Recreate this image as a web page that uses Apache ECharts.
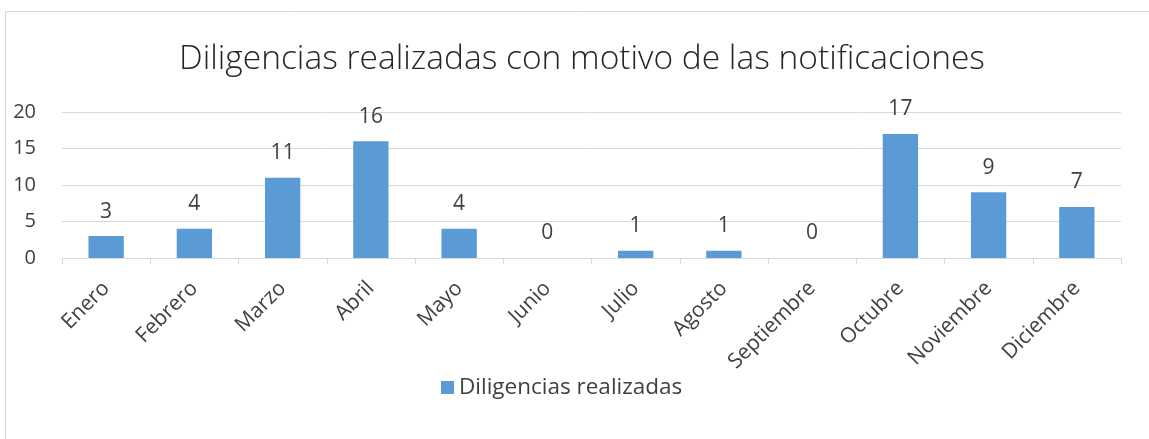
<!DOCTYPE html>
<html>
<head>
<meta charset="utf-8">
<script src="https://cdn.jsdelivr.net/npm/echarts@6/dist/echarts.min.js"></script>
<style>
  html, body { margin: 0; padding: 0; background: #fff; }
  #chart { width: 1149px; height: 439px; }
</style>
</head>
<body>
<div id="chart"></div>
<script>
// datos del gráfico
var meses = ['Enero', 'Febrero', 'Marzo', 'Abril', 'Mayo', 'Junio', 'Julio', 'Agosto', 'Septiembre', 'Octubre', 'Noviembre', 'Diciembre'];
var diligencias = [3, 4, 11, 16, 4, 0, 1, 1, 0, 17, 9, 7];
var serieNombre = 'Diligencias realizadas';
var tituloTexto = 'Diligencias realizadas con motivo de las notificaciones';

var chart = echarts.init(document.getElementById('chart'));
var fuente = '"Open Sans", "Noto Sans", sans-serif';

var option = {
    backgroundColor: '#fff',
    animation: false,
    textStyle: { fontFamily: fuente },
    graphic: [{
        type: 'rect',
        shape: { x: 5.5, y: 11.5, width: 1160, height: 450 },
        style: { fill: 'none', stroke: '#d9d9d9', lineWidth: 1 }
    }],
    title: {
        text: tituloTexto,
        left: 174,
        top: 37,
        textStyle: { fontFamily: fuente, fontWeight: 300, fontSize: 33.5, color: '#262626' }
    },
    legend: {
        data: [serieNombre],
        top: 371,
        left: 436,
        icon: 'rect',
        itemWidth: 13,
        itemHeight: 13,
        itemGap: 8,
        textStyle: { fontFamily: fuente, fontSize: 22.5, color: '#404040' }
    },
    grid: { left: 62, right: 28, top: 112, bottom: 181, containLabel: false },
    xAxis: {
        type: 'category',
        data: meses,
        axisLine: { lineStyle: { color: '#d9d9d9', width: 1 } },
        axisTick: { show: true, length: 6, lineStyle: { color: '#d9d9d9' } },
        axisLabel: { rotate: 45, fontSize: 21, color: '#404040', margin: 27, fontFamily: fuente }
    },
    yAxis: {
        type: 'value',
        min: 0,
        max: 20,
        interval: 5,
        axisLine: { show: false },
        axisTick: { show: false },
        splitLine: { lineStyle: { color: '#d9d9d9', width: 1 } },
        axisLabel: { fontSize: 20, color: '#404040', margin: 26, fontFamily: fuente }
    },
    series: [{
        name: serieNombre,
        type: 'bar',
        data: diligencias,
        barWidth: '40%',
        itemStyle: { color: '#5b9bd5' },
        label: {
            show: true,
            position: 'top',
            distance: 14,
            fontSize: 21,
            color: '#404040',
            fontFamily: fuente
        }
    }]
};
chart.setOption(option);
</script>
</body>
</html>
